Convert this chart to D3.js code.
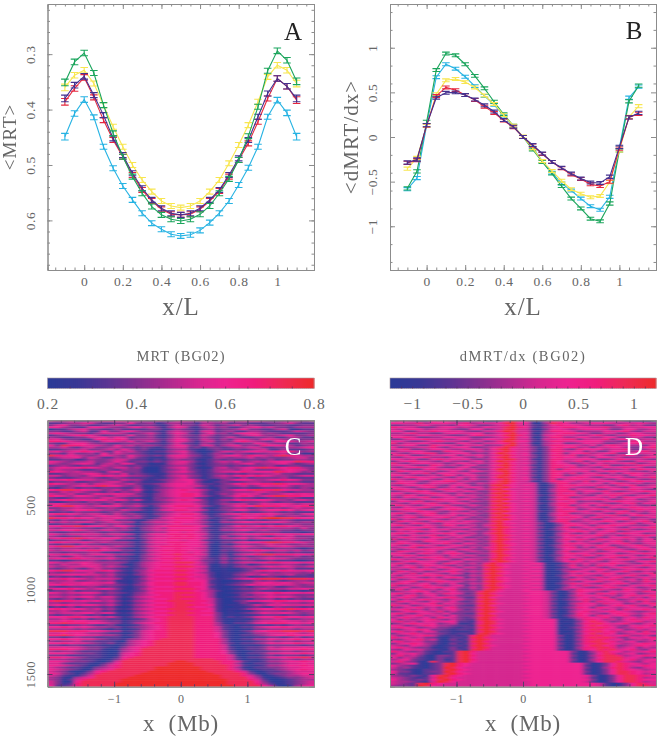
<!DOCTYPE html>
<html><head><meta charset="utf-8">
<script src="https://cdn.jsdelivr.net/npm/d3@7"></script>
<style>
html,body{margin:0;padding:0;background:#fff}
svg{display:block}
text{font-family:"Liberation Serif","DejaVu Serif",serif}
</style></head><body>
<svg id="chart" width="660" height="738"></svg>
<script>
const xL=[-0.1,-0.05,0,0.05,0.1,0.15,0.2,0.25,0.3,0.35,0.4,0.45,0.5,0.55,0.6,0.65,0.7,0.75,0.8,0.85,0.9,0.95,1,1.05,1.1];
const cyan="#27b3e3",yellow="#f8e650",green="#1ba55c",red="#e5283f",purple="#44308f";
const mrtCyan=[.449,.407,.382,.414,.467,.506,.538,.563,.587,.605,.616,.625,.628,.626,.618,.604,.587,.565,.536,.505,.467,.413,.383,.406,.449];
const mrtYellow=[.360,.338,.329,.353,.392,.431,.467,.500,.527,.548,.565,.574,.577,.574,.565,.548,.527,.497,.464,.428,.386,.341,.320,.329,.353];
const mrtGreen=[.351,.314,.298,.334,.392,.443,.485,.521,.551,.575,.590,.598,.601,.598,.589,.574,.551,.525,.491,.448,.395,.330,.294,.311,.349];
const mrtRed=[.386,.362,.342,.378,.419,.455,.485,.518,.545,.565,.580,.589,.590,.589,.580,.565,.547,.521,.491,.461,.422,.380,.344,.358,.383];
const mrtPurple=[.380,.356,.340,.374,.410,.452,.482,.515,.542,.563,.578,.587,.590,.587,.578,.563,.545,.518,.488,.455,.413,.371,.344,.358,.380];
const mrtErr=[.006,.005,.005,.0045,.0045,.0045,.0045,.0045,.0045,.0045,.0045,.0045,.0045,.0045,.0045,.0045,.0045,.0045,.0045,.0045,.0045,.0045,.005,.005,.006];
const slopeCyan=[-.585,-.46,.13,.67,.815,.765,.675,.57,.46,.36,.24,.12,0,-.12,-.27,-.40,-.52,-.60,-.69,-.775,-.815,-.67,-.12,.44,.565];
const slopeYellow=[-.355,-.235,.125,.48,.635,.65,.615,.555,.465,.37,.245,.125,.005,-.125,-.27,-.38,-.49,-.585,-.635,-.675,-.66,-.505,-.15,.225,.345];
const slopeGreen=[-.575,-.385,.17,.75,.935,.915,.815,.685,.545,.395,.255,.125,0,-.14,-.28,-.41,-.55,-.69,-.80,-.915,-.945,-.745,-.15,.40,.575];
const slopeRed=[-.29,-.26,.13,.46,.555,.525,.47,.415,.34,.27,.185,.11,0,-.095,-.19,-.28,-.35,-.42,-.47,-.53,-.55,-.50,-.13,.22,.26];
const slopePurple=[-.286,-.252,.133,.44,.495,.50,.47,.42,.355,.285,.19,.115,0,-.09,-.185,-.28,-.345,-.41,-.465,-.51,-.515,-.445,-.11,.22,.27];
const slopeErr=[.018,.018,.018,.016,.016,.016,.016,.016,.016,.016,.016,.016,.016,.016,.016,.016,.016,.016,.016,.016,.016,.018,.018,.018,.018];
const levelStops=["#2b3a97","#3a3795","#5b3493","#83308f","#ab2b8f","#d5268f","#ee2290","#f01c7c","#ee2a55","#ee2a2c"];
const mrtLevels=[
"5445334455 6544434335 5435436445 5543344434",
"2234455322 3363341244 3314434233 2223345322",
"3563342234 5422332135 4325423453 4322332233",
"6643226654 3356453146 5214534224 5645332444",
"1224563322 4222233124 3213423346 3322451122",
"3322452263 3564332145 4315523422 4432223543",
"5654332455 5423453146 5214634256 6534322223",
"2345676423 3363342135 4325423324 5643456334",
"4322335564 6523342135 4224323532 2334224422",
"5643322675 7634443246 6325424255 4365543233",
"7765443256 5463453146 5314523367 5432665445",
"3225664332 2334322135 3214323423 3654332243",
"6387765543 6453443246 6325524563 4376654234",
"4453245334 5332321245 5231332344 5532334456",
"2234453345 3642311134 4210232232 3452242223",
"5645676532 6453212245 6310135545 6655767434",
"3325334263 5433211134 5320243243 2334452311",
"8756543465 4364323256 6431245664 7654787544",
"3455635422 4353211145 5321144344 5343334553",
"2233124334 5532202134 3310232322 3324233443",
"6543445334 6423323245 6421245463 4545666877",
"5434565245 3652201145 5310234345 6344564234",
"2343233354 4323211234 4321233232 3334223322",
"4565676543 5534100245 6310145345 6787767743",
"3544322343 2433100234 5321244435 5333456553",
"7654544325 6333100245 6421245567 5666876534",
"2234456534 3523211134 4321233232 4344533222",
"5534435676 5644321245 6431245467 6765443455",
"3222344323 4322211134 5320234324 2333342222",
"6567655443 3544212345 6642113466 5445676533",
"2334223345 5323111245 5631023223 4433233322",
"7654453555 4453223456 6642213467 5677876654",
"4334565786 6434112456 6553123345 3465564344",
"2134233233 3224102345 5532013223 2233343243",
"6788765534 5346213456 7664213466 7877865544",
"3354543324 2434102456 6553123344 4554432333",
"5445334655 6553213456 7763124356 5534456565",
"7654665443 5544213456 7764213467 6457887766",
"3223444355 4322103345 5532012243 3223334322",
"4567565664 6535213456 7663124467 5665443554",
"2123324334 2322112345 5543123223 3343233222",
"5654443423 5334223456 6653124455 3465665455",
"6788654565 6445313567 7764213467 6877765677",
"3344544334 3233102456 6552013344 2343434544",
"5345667544 3544213567 7664123466 4456676456",
"2232433323 4321102345 5542012323 2234323222",
"6776545543 5343213456 7763124567 5676544356",
"4334344565 5434212456 6654123345 5545334434",
"8776766455 6544213567 7764213467 6789988766",
"3243334455 3321134456 6653013233 2323343222",
"5454555345 5441345567 6654214456 6565654344",
"2233312343 4320234456 5553102233 3323233433",
"6677876654 6642345677 7765213467 5676776544",
"4344433234 3420345466 6663113344 4434444353",
"5566754455 4431345577 7764214456 5454433233",
"3223334323 3210234466 5654112233 2333322212",
"6545565545 5541356677 7765213456 6677666566",
"4323344433 4321345567 6764214234 3432445333",
"5677876566 6441356677 7765214456 4566765443",
"2334423444 2210245566 5663112223 1222344323",
"6765565454 4431356677 7665203356 6678877654",
"3233243323 3321245567 6664102134 3345443343",
"6788665554 5431356777 7665103356 5445565444",
"4344434354 3210245667 6654102234 3322333212",
"5455667765 5331356777 7665103245 6765554534",
"3323334422 1210245667 6564102123 3432332322",
"6576545665 4431356778 7765103145 6788777665",
"4423544334 2210345667 6654113123 2334333423",
"5667765556 4321356778 7664214245 4456554333",
"2212334323 2210345667 6653213123 3223222112",
"6545565444 4312456778 8864214245 5567766656",
"4354465534 3102456667 7654102123 1233344323",
"5445556545 4312456778 8865102134 4456565445",
"3234324533 2102356667 7654101012 3223334222",
"6788665576 4213467778 8765101012 3576676556",
"4334445334 2102456667 7654201123 4434344434",
"5566665545 3213467778 8765201134 5464445332",
"2323233434 2101356667 7655201123 1223212222",
"6576654555 4112467778 8765311245 6788878887",
"3445334434 1102356667 7666210012 2434323443",
"5455566556 2102467778 8776210123 3566565455",
"6676565544 3213467778 8776311234 6565655434",
"3223334323 2102356667 7766210012 1334223433",
"5667654565 3102467778 8876310123 3454445565",
"2334233323 2012356667 7765420012 2322212212",
"6545566534 3213467778 8876410123 4566766656",
"4434344323 2013456778 7776410013 2445444333",
"5545566455 3124567778 8876410123 4456565434",
"3234234344 2013456678 7776520012 1334232322",
"7877565645 3124567788 8877520023 5566776656",
"4434443334 2013456678 8776520013 2234544434",
"5676566545 3124567778 8877620112 3546565555",
"2324233323 1013456678 8766520011 2322433323",
"6765654534 2124567788 8877620112 4566778776",
"4454344423 1013456678 8776620101 1344434344",
"5455566455 2124567788 8877730112 3465565434",
"3233432312 1013456678 8776630101 1233323323",
"6667765545 3124567788 8877730212 3566776656",
"4454342332 2012356788 8877731011 1344543344",
"5567665543 3123456788 8877731011 2455565545",
"7787776654 3124567788 8877741022 3567776656",
"3323343223 1012456788 8877742101 1222323433",
"6676565443 3123456788 8877752102 2456676555",
"4444343321 2012456788 8877752101 1334444344",
"8887776654 4123567788 8877753102 3567788878",
"5565654432 2013567788 8877763101 2445556545",
"7787665544 3123567788 8877763102 2345667666",
"3323433222 2013567788 8877763101 1223323423",
"6676655432 2134567888 8877774102 2446556766",
"4344533222 1045678888 8877774101 1234344344",
"6676554323 1245678888 8877774202 2346566756",
"3323322211 0245678888 8877775101 1123333323",
"5565543321 0356788888 8877775201 2235455565",
"7776543310 1456888888 8877775201 2235566676",
"4344322210 0456888888 8877776310 1223344344",
"6665433210 1567888888 8877776310 2235566676",
"3332222210 1567888888 8877777510 1123233323",
"7765432210 2678888888 8877777520 2235567787",
"4443322101 3788888888 8888877520 1123344344",
"6654332102 5888888889 9888887752 1124456676",
"5532221024 6888888899 9988887741 0223345565",
"6654320135 7888888899 9988888752 1124456676",
"5432210345 7888889999 9998888741 0223345566",
"6543201456 8888889999 9998888752 0122345676",
"5431013678 8888899999 9999888875 2012234555",
"6532024788 8888999999 9999988887 3102334566",
"5421135888 8889999999 9999998887 5301234455",
"4310456888 8899999999 9999998888 6410123345",
"4302578888 8999999999 9999999888 7520012344",
"5301688888 8999999999 9999999888 8631012345",
"5312788888 9999999999 9999999888 8742012345",
"6223788888 9999999999 9999999988 8864101456"];
const slopeLevels=[
"4554336554 3344223795 5214775555 3344533222",
"6655746665 5745556896 6104876445 6665455654",
"3344564443 6653345795 5213676654 4433674533",
"7655333566 4544655897 6214567766 5574455566",
"5466645554 3366345895 5103665456 6653366445",
"6633557665 6433557985 5214776534 4465674355",
"4467443356 5566345795 6104567765 3355346644",
"5544665543 3467556897 5215675544 6743557665",
"6675334466 5533345795 6104774466 4466335533",
"3356675544 6644665895 5205567735 5573664455",
"5643346755 4355347986 6214775566 6644337644",
"7355664433 6643556795 5104563346 5533466755",
"4566337665 3556344895 6214776654 6367554436",
"6344557435 6633457975 5313676745 3556643367",
"5673346654 4565368965 6303774376 6645573345",
"3556643376 5345457975 5313775563 5336654674",
"6435677345 6634369865 6203673667 4567336556",
"5763345566 3556457975 6313775734 5643576345",
"4356674435 6435368965 5303676645 3665534476",
"6645336756 5643457985 6203775566 6334765543",
"3567554364 4356369875 5313764573 5576433656",
"7435665534 6645457965 6303765346 3645567345",
"5664337645 3563368975 5213776634 6573344765",
"4356756433 5634457965 6303775745 4365676533",
"6543367565 6453369875 6213737665 5634453766",
"3765645346 4365458965 5303776556 3567654435",
"5436573665 5643367975 6213764735 6435367654",
"6654345376 3564458965 5303773456 5764536645",
"4367656543 6453369875 6203765676 4356643557",
"7543664365 5364457965 6313735765 6643576434",
"3656435677 4543368975 5203776547 3565346765",
"5765346554 6435478965 5511477456 5636754534",
"4356675436 5634389765 6510376765 6453567345",
"6543567346 3565378965 5511377544 3765436656",
"5765343675 6435489655 6510477365 5346657543",
"3456764356 4653378965 5511477746 6574345676",
"6634567543 5344389765 6510375635 4365765435",
"5476345664 6553478965 5521477754 3657543567",
"4365673456 3454389765 6510367345 6546376654",
"7543456765 5643478965 5511477656 5763456345",
"3665734556 4354389655 6510365734 4356765546",
"5436567435 6533378965 5521477645 6543467365",
"6754356674 3464389765 6510477356 3675645434",
"4365674356 5343478965 5511367745 5436567656",
"5676433567 6534389765 6510375634 6754345765",
"3456765435 4353478965 5521377756 4365673546",
"6743567346 5644389655 6510467345 5643756435",
"5365476556 3453378965 5511477654 3567436765",
"4567345674 6534389765 6510365763 6745563446",
"7354665435 5343478965 5511377546 4365674553",
"3765436756 4654389655 6520477345 5676345674",
"5436754365 6543479765 5530147654 6435567356",
"6754365476 3453589755 6520136765 3567654435",
"4356675345 5643479865 5530147346 5765436567",
"5675436564 4354389755 6520246754 6356574345",
"3546756435 6543479765 5530135676 4567345665",
"6765345676 3453589755 6520147435 3654676534",
"5436567346 5643479865 5530146765 6745345676",
"4675436754 6334379755 6520236546 5436675453",
"7346566435 4553479865 5530147675 3765546366",
"3654376565 5344389755 6520146354 6546735465",
"5765435674 3653479765 5530136765 4365674356",
"6436765346 6444379865 6520247546 5763456745",
"4567345765 4353579755 5530146735 3657345664",
"5345676543 5643479865 6520136654 6475643576",
"3765456356 3454389755 5530147345 5346567435",
"6543675467 6334479765 6520146766 4765345676",
"5676345536 4553379855 5530236547 6356765345",
"4354676745 5344479765 6520147654 3567436567",
"7645345663 3654389755 5530146375 5745675434",
"3467656435 6344479865 6520136764 6436543667",
"5743565376 4453797555 5661013546 4567654354",
"6365476543 5344897655 6551024735 3756345676",
"4567354675 3553798655 5661013654 6435675435",
"5435676346 6343897555 6551024346 5763456766",
"3764534567 4454798655 5661014765 3645674354",
"6547365436 5243897655 6551013546 6576345567",
"5365676754 3354798555 5661024675 4365567436",
"4756435367 6243897655 6551014354 5746734565",
"6345676543 4453797655 5661013765 3567456374",
"3567345765 5343898655 6551014436 6745635476",
"5764563546 3354797555 5661024765 4356763454",
"7345675435 6243897655 6551013547 5675436567",
"4563476756 4353798655 5661014654 3467565345",
"5736545367 3243897555 6551024376 6754376546",
"3456763546 4337986555 6665301476 5436565476",
"6745365476 5238975555 5665201365 3767456345",
"5367456345 3337986555 6665301476 6545367567",
"4675345677 4228965555 5665201356 4673564536",
"6354675435 5337985555 6665302467 5467345765",
"3765436546 3238975555 5665201347 3756546374",
"5436567365 4337986555 6665301476 6475634567",
"7563456745 3228965555 5665201356 5346767436",
"4356745367 3337985555 6665302476 3765456554",
"5674536456 4238975555 5665201356 6546375676",
"3467654735 3337986555 6665301467 4567654345",
"6743565463 3228965555 5665201376 5436765467",
"5356745536 3337985555 6665302476 3765674356",
"4675463765 3238975555 5665201357 6574356476",
"6354567435 3228976555 6666610147 7645367565",
"5745365566 2217985555 5666601136 8753456745",
"3467656345 1127986555 6666610147 7865674356",
"6534576443 2218975555 5666601136 8675436567",
"5765345332 1227986555 6666610247 7876345765",
"4356763321 2218975555 5666601136 8765634546",
"6745365221 1127985555 6666610147 7867456374",
"3567544321 2218976555 5666601136 8576345676",
"5345675212 1279855555 6666630147 7865674453",
"7564533102 2189755555 5666620137 8787436567",
"4356745103 1279865555 6666630147 7875634546",
"6745533102 2189755555 5666620137 8867456345",
"3567643103 1279855555 6666630147 7886545676",
"5436542012 2189765555 5666620136 8867345765",
"6754331013 1279855555 6666630147 7887456354",
"4365532103 2189755555 5666620137 6878567436",
"7543421022 8975555555 6666666301 4786645567",
"3656421012 8965555555 5666666201 3687456345",
"5745310332 8975555555 6666666301 4788745676",
"6354210322 8965555555 5666666201 3688856534",
"4563210312 8975555555 6666666301 4788867456",
"5743108322 8965555555 5666666201 3688754365",
"3456102389 7655555555 6666666663 0136876546",
"6432102389 7655555555 5666666662 0136875676",
"5342102398 6555555555 6666666663 0147874356",
"4321022389 7655555555 5666666662 0136876545",
"6331023398 6555555555 6666666663 0136887656",
"5221022389 7655555555 5666666662 0136887645",
"4323216897 6555555555 6666666666 3013688776",
"5432125986 5555555555 5666666665 2013688745",
"6432326897 6555555555 6666666666 3013688766",
"5443215986 5555555555 5666666665 2013688745",
"5432897655 5555555555 5666666666 6520136875",
"4332986555 5555555555 5666666666 6520136887"];
const mrtTicks=[0.3,0.4,0.5,0.6];
const slopeTicks=[-1,-0.5,0,0.5,1];
const xTicks=[0,0.2,0.4,0.6,0.8,1];
const mbTicks=[-1,0,1];
const rowTicks=[500,1000,1500];
const mrtBarTicks=[0.2,0.4,0.6,0.8];
const slopeBarTicks=[-1,-0.5,0,0.5,1];

const svg=d3.select("#chart");
const defs=svg.append("defs");
const blurF=defs.append("filter").attr("id","soft").attr("x","-5%").attr("y","-5%").attr("width","110%").attr("height","110%");
blurF.append("feGaussianBlur").attr("stdDeviation","2 0.4");
const inkF=defs.append("filter").attr("id","ink").attr("x","-5%").attr("y","-5%").attr("width","110%").attr("height","110%");
inkF.append("feGaussianBlur").attr("stdDeviation","0.35");

const rangeX=d=>d3.range(d[0],d[1]+1e-9,d[2]);
function frame(g,x,y,o){
  const y0=Math.max(...y.range()),y1=Math.min(...y.range());
  const style=s=>{s.select(".domain").attr("stroke","#8c8c8c").attr("stroke-width",1);s.selectAll(".tick line").attr("stroke",o.tickColor||"#8c8c8c");};
  const add=(axis,t)=>g.append("g").attr("transform",t).call(axis).call(style);
  const noLab=()=>"";
  add(d3.axisBottom(x).tickValues(o.xMinor).tickSize(-2.5).tickFormat(noLab),`translate(0,${y0})`);
  add(d3.axisTop(x).tickValues(o.xMinor).tickSize(-2.5).tickFormat(noLab),`translate(0,${y1})`);
  add(d3.axisLeft(y).tickValues(o.yMinor).tickSize(-2.5).tickFormat(noLab),`translate(${x.range()[0]},0)`);
  add(d3.axisRight(y).tickValues(o.yMinor).tickSize(-2.5).tickFormat(noLab),`translate(${x.range()[1]},0)`);
  add(d3.axisTop(x).tickValues(o.xMajor).tickSize(-5).tickFormat(noLab),`translate(0,${y1})`);
  add(d3.axisRight(y).tickValues(o.yMajor).tickSize(-5).tickFormat(noLab),`translate(${x.range()[1]},0)`);
  const bx=add(d3.axisBottom(x).tickValues(o.xMajor).tickSize(-5).tickPadding(o.xPad).tickFormat(d3.format("~g")),`translate(0,${y0})`);
  bx.selectAll("text").attr("font-size",o.xFont).attr("letter-spacing",".6").attr("fill","#666");
  const by=add(d3.axisLeft(y).tickValues(o.yMajor).tickSize(-5).tickFormat(o.yLabels===false?noLab:d3.format("~g")),`translate(${x.range()[0]},0)`);
  by.selectAll("text").attr("font-size",o.yFont).attr("fill","#666").attr("letter-spacing",".6")
    .attr("text-anchor","middle").attr("dy",0).attr("x",0).attr("y",0)
    .attr("transform",`translate(${-o.yPad},0) rotate(-90)`);
}
function label(t,x,y,size,opt={}){
  const e=svg.append("text").attr("x",x).attr("y",y).attr("font-size",size).attr("text-anchor","middle").text(t)
   .attr("fill",opt.fill||"#666").attr("filter","url(#ink)").style("white-space","pre");
  if(opt.rotate) e.attr("transform",`rotate(-90 ${x} ${y})`);
  if(opt.ls) e.attr("letter-spacing",opt.ls);
  return e;
}
function linePanel(px0,px1,yDomain,series,colors,errs,o){
  const x=d3.scaleLinear().domain([-0.19,1.19]).range([px0,px1]);
  const y=d3.scaleLinear().domain(yDomain).range([4,270]);
  const g=svg.append("g");
  frame(g,x,y,{xMajor:xTicks,xMinor:rangeX([-0.15,1.15,0.05]),yMajor:o.yMajor,yMinor:o.yMinor,xPad:6,xFont:13.5,yFont:13.5,yPad:13});
  const line=d3.line().x((d,i)=>x(xL[i])).y(d=>y(d));
  const marks=g.append("g").attr("filter","url(#ink)");
  series.forEach((vals,k)=>{
    const s=marks.append("g").attr("stroke",colors[k]).attr("fill","none").attr("stroke-width",1.1);
    s.append("path").attr("d",line(vals));
    s.selectAll("path.err").data(vals).join("path").attr("class","err").attr("d",(d,i)=>{
      const X=x(xL[i]),a=y(d-errs[i]),b=y(d+errs[i]);
      return `M${X-3.8},${a}H${X+3.8}M${X-3.8},${b}H${X+3.8}M${X},${a}V${b}`;
    });
  });
}
linePanel(47.5,314,[0.2095,0.6895],[mrtCyan,mrtYellow,mrtRed,mrtPurple,mrtGreen],[cyan,yellow,red,purple,green],mrtErr,
  {yMajor:mrtTicks,yMinor:rangeX([0.22,0.68,0.02])});
linePanel(390,656,[1.49,-1.49],[slopeCyan,slopeGreen,slopeYellow,slopeRed,slopePurple],[cyan,green,yellow,red,purple],slopeErr,
  {yMajor:slopeTicks,yMinor:rangeX([-1.4,1.4,0.2])});

function heatPanel(px0,px1,levels,domain,barTicks,barMinor,showRows){
  const grid=levels.map(r=>r.replace(/ /g,"").split("").map(Number));
  const nCols=40,nRows=grid.length;
  const mb=d3.scaleLinear().domain([-2,2]).range([px0,px1]);
  const rowsY=d3.scaleLinear().domain([0,1575]).range([420.3,686.7]);
  const colB=d3.scaleBand().domain(d3.range(nCols)).range([px0,px1]);
  const rowB=d3.scaleBand().domain(d3.range(nRows)).range([420.3,686.7]);
  const color=d3.scaleOrdinal().domain(d3.range(10)).range(levelStops);
  const id="clip"+Math.round(px0);
  defs.append("clipPath").attr("id",id).append("rect").attr("x",px0).attr("y",420.3).attr("width",px1-px0).attr("height",266.4);
  const outer=svg.append("g").attr("clip-path",`url(#${id})`);
  const cells=outer.append("g").attr("filter","url(#soft)");
  const rows=cells.selectAll("g").data(grid).join("g");
  rows.selectAll("rect").data((r,i)=>r.map((v,c)=>({v,c,i}))).join("rect")
    .attr("x",d=>colB(d.c)-(d.c===0?12:0))
    .attr("width",d=>colB.bandwidth()+(d.c===0||d.c===nCols-1?12:0)+.5)
    .attr("y",d=>rowB(d.i)-(d.i===0?4:0))
    .attr("height",d=>rowB.bandwidth()+(d.i===0||d.i===nRows-1?4:0)+.3)
    .attr("fill",d=>color(d.v));
  const g=svg.append("g");
  frame(g,mb,rowsY,{xMajor:mbTicks,xMinor:rangeX([-1.8,1.8,0.2]),yMajor:rowTicks,yMinor:rangeX([100,1500,100]),xPad:8,xFont:12,yFont:12.5,yPad:13,tickColor:"#5a3a6a",yLabels:showRows});
  const bar=d3.scaleLinear().domain(domain).range([px0,px1]);
  const barVals=d3.range(0,133);
  const bw=(px1-px0)/133;
  const barG=svg.append("g");
  const cont=d3.scaleLinear().domain(d3.range(levelStops.length).map(i=>i/(levelStops.length-1))).range(levelStops);
  barG.selectAll("rect").data(barVals).join("rect")
    .attr("x",d=>bar(domain[0]+(domain[1]-domain[0])*d/133)).attr("y",378).attr("width",bw+.5).attr("height",10.5)
    .attr("fill",d=>cont(d/132));
  barG.append("rect").attr("x",px0).attr("y",378).attr("width",px1-px0).attr("height",10.5).attr("fill","none").attr("stroke","#a89aa0").attr("stroke-width",.6);
  barG.append("g").attr("transform","translate(0,388.5)")
    .call(d3.axisBottom(bar).tickValues(barMinor).tickSize(-2).tickFormat(()=>""))
    .call(s=>{s.select(".domain").remove();s.selectAll("line").attr("stroke","#5a3060").attr("stroke-opacity",.7);});
  const lab=barG.append("g").attr("transform","translate(0,388.5)")
    .call(d3.axisBottom(bar).tickValues(barTicks).tickSize(0).tickPadding(9).tickFormat(d3.format("~g")));
  lab.select(".domain").remove();
  lab.selectAll("text").attr("font-size",15.5).attr("letter-spacing",".9").attr("fill","#666");
}
heatPanel(47.5,314,mrtLevels,[0.2,0.8],mrtBarTicks,rangeX([0.25,0.75,0.05]),true);
heatPanel(390,656,slopeLevels,[-1.2,1.2],slopeBarTicks,rangeX([-1.1,1.1,0.1]),false);

label("<MRT>",16,137,19,{rotate:true,ls:"1"});
label("<dMRT/dx>",358,137,21,{rotate:true,ls:"1"});
label("x/L",181,315,25,{ls:"1"});
label("x/L",523,315,25,{ls:"1"});
label("x  (Mb)",181,731,23,{ls:".8"});
label("x  (Mb)",523,731,23,{ls:".8"});
label("MRT (BG02)",181,361,14.5,{ls:"1.1"});
label("dMRT/dx (BG02)",523,361,14.5,{ls:"1.6"});
label("A",293,40,25,{fill:"#222"});
label("B",634,39,25,{fill:"#222"});
label("C",293,455,25,{fill:"#fff"});
label("D",634,455,25,{fill:"#fff"});
</script>
</body></html>
